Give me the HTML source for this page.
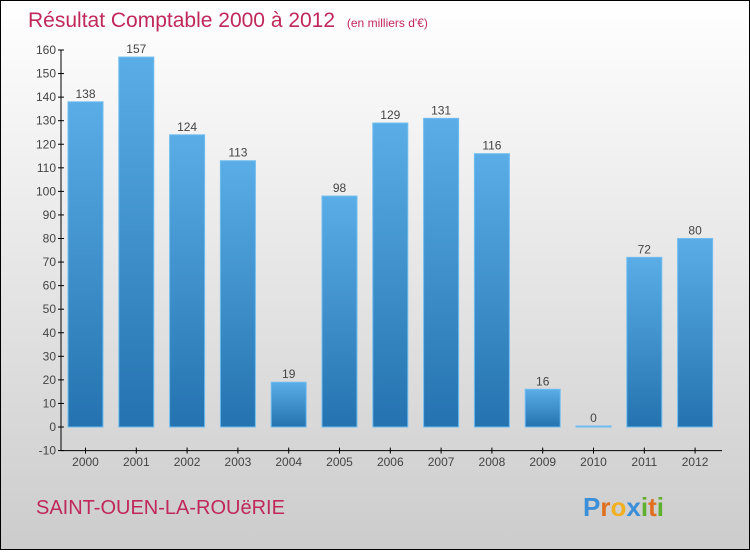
<!DOCTYPE html>
<html><head><meta charset="utf-8"><style>
body{margin:0;width:750px;height:550px;overflow:hidden}
</style></head><body>
<svg width="750" height="550" xmlns="http://www.w3.org/2000/svg">
<defs>
<linearGradient id="bg" x1="0" y1="0" x2="0" y2="1"><stop offset="0" stop-color="#ffffff"/><stop offset="1" stop-color="#cccccc"/></linearGradient>
<linearGradient id="bar" x1="0" y1="0" x2="0" y2="1"><stop offset="0" stop-color="#5aade6"/><stop offset="1" stop-color="#2473b0"/></linearGradient>
</defs>
<rect x="0.5" y="0.5" width="749" height="549" fill="url(#bg)" stroke="#000"/>
<text x="28" y="27" font-family="Liberation Sans, sans-serif" font-size="21" fill="#c0285a">Résultat Comptable 2000 à 2012 <tspan font-size="12" dx="6">(en milliers d'€)</tspan></text>
<g id="axes"></g><g id="bars"></g>
<text x="36" y="514" font-family="Liberation Sans, sans-serif" font-size="20" fill="#c0285a">SAINT-OUEN-LA-ROUëRIE</text>
<text x="583" y="516" font-family="Liberation Sans, sans-serif" font-size="26" font-weight="bold"><tspan fill="#3a8fd8">P</tspan><tspan fill="#e07020">r</tspan><tspan fill="#f0b020">o</tspan><tspan fill="#3a8fd8">x</tspan><tspan fill="#60b030">i</tspan><tspan fill="#e07020">t</tspan><tspan fill="#60b030">i</tspan></text>
</svg>
<script>
const years=["2000","2001","2002","2003","2004","2005","2006","2007","2008","2009","2010","2011","2012"];
const values=[138,157,124,113,19,98,129,131,116,16,0,72,80];
const yTicks=[-10,0,10,20,30,40,50,60,70,80,90,100,110,120,130,140,150,160];
const NS="http://www.w3.org/2000/svg";
const y0=427,k=377/160;
const ys=v=>y0-v*k;
const xs=i=>85.5+i*50.8;
function mk(t,a,p){const e=document.createElementNS(NS,t);for(const n in a)e.setAttribute(n,a[n]);p.appendChild(e);return e;}
const ax=document.getElementById('axes'),bg=document.getElementById('bars');
const yl=mk('line',{x1:61,y1:ys(160),x2:61,y2:ys(-10),stroke:'#000'},ax);


const xl=mk('line',{x1:61,y1:ys(-10),x2:722,y2:ys(-10),stroke:'#000'},ax);


yTicks.forEach(v=>{
 mk('line',{x1:58,x2:64,y1:ys(v),y2:ys(v),stroke:'#000'},ax);
 const t=mk('text',{x:56,y:ys(v)+4,'text-anchor':'end','font-family':'Liberation Sans, sans-serif','font-size':12,fill:'#444'},ax);
 t.textContent=v;
 
 
});
years.forEach((yr,i)=>{
 const x=xs(i),v=values[i];
 mk('line',{x1:x,x2:x,y1:ys(-10)-3,y2:ys(-10)+3,stroke:'#000'},ax);
 const t=mk('text',{x:x,y:466,'text-anchor':'middle','font-family':'Liberation Sans, sans-serif','font-size':12,fill:'#444'},ax);
 t.textContent=yr;
 
 
 const h=Math.max(1,v*k);
 const r=mk('rect',{x:x-17.5,y:y0-h,width:35,height:h,fill:'url(#bar)',stroke:'#6fbdf0','stroke-width':1},bg);
 
 
 const l=mk('text',{x:x,y:y0-h-4,'text-anchor':'middle','font-family':'Liberation Sans, sans-serif','font-size':12,fill:'#444'},bg);
 l.textContent=v;
 
 
});
</script>
</body></html>
